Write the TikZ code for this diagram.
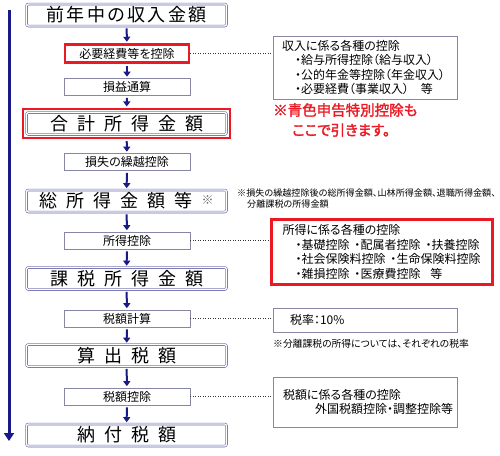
\documentclass[tikz,border=0pt]{standalone}
\usepackage{fontspec}
\setmainfont{Noto Sans CJK JP}[RawFeature=+palt]
\newfontfamily\boldjp{Noto Sans CJK JP}[RawFeature=+palt,FakeBold=2]
\usetikzlibrary{arrows.meta,fit,shadows}

\definecolor{flowblue}{RGB}{25,25,135}
\definecolor{boxblue}{RGB}{105,105,175}
\definecolor{boxgray}{RGB}{135,135,165}
\definecolor{markred}{RGB}{235,25,35}

\newcommand{\wsp}{\hspace{9pt}}
\newcommand{\nsp}{\hspace{2.5pt}}
\newcommand{\isp}{\nobreak\hspace{5pt}}

\tikzset{
	bigbox/.style={draw=boxblue, double=white, double distance=1.3pt, line width=0.6pt,
		rounded corners=2pt, fill=white, minimum width=200pt, minimum height=22pt, inner sep=0pt,
		font=\fontsize{18}{20}\selectfont,
		drop shadow={shadow xshift=1pt, shadow yshift=-1pt, opacity=0.3}},
	smallbox/.style={draw=boxgray, line width=0.6pt, fill=white, minimum width=126pt,
		minimum height=17pt, inner sep=0pt, font=\fontsize{12}{14}\selectfont},
	redframe/.style={draw=markred, line width=2.5pt},
	sidebox/.style={draw=boxgray, line width=0.7pt, fill=white, align=left, inner ysep=0pt,
		font=\fontsize{12}{14.5}\selectfont},
	flow/.style={draw=flowblue, line width=2pt, -{Triangle[width=7pt,length=5pt]},
		shorten <=2pt, shorten >=1.5pt},
	dots/.style={draw=black!80, line width=1.1pt, dash pattern=on 1.1pt off 1.4pt, shorten >=2pt},
	note/.style={anchor=west, align=left, inner sep=0pt, font=\fontsize{9.1}{11.5}\selectfont}
}

\begin{document}
\begin{tikzpicture}[x=1pt, y=-1pt]
		\useasboundingbox (0,0) rectangle (500,455);

		\coordinate (arrtop) at (9,10);
		\coordinate (arrbot) at (9,441);

		% main column
		\node[bigbox] (shunyu) at (126.5,15) {前\nsp 年\nsp 中\nsp の\nsp 収\nsp 入\nsp 金\nsp 額};
		\node[smallbox, redframe, minimum width=124pt, minimum height=18pt] (keihi) at (127,53.5) {必要経費等を控除};
		\node[smallbox] (tsusan) at (127,87) {損益通算};
		\node[bigbox] (gokei) at (126.5,123.5) {合\wsp 計\wsp 所\wsp 得\wsp 金\wsp 額};
		\node[redframe, fit=(gokei), inner sep=3pt] (gokeiframe) {};
		\node[smallbox] (kurikoshi) at (127,162) {損失の繰越控除};
		\node[bigbox] (soshotoku) at (126.5,201) {総\wsp 所\wsp 得\wsp 金\wsp 額\wsp 等\wsp\raisebox{3pt}{\fontsize{12}{12}\selectfont\color{black!60}※}};
		\node[smallbox] (shotokukojo) at (127,240.5) {所得控除};
		\node[bigbox] (kazei) at (126.5,278.5) {課\wsp 税\wsp 所\wsp 得\wsp 金\wsp 額};
		\node[smallbox] (zeigaku) at (127,318.5) {税額計算};
		\node[bigbox] (sanshutsu) at (126.5,355.5) {算\wsp 出\wsp 税\wsp 額};
		\node[smallbox] (zeikojo) at (127,396.5) {税額控除};
		\node[bigbox] (nofu) at (126.5,435) {納\wsp 付\wsp 税\wsp 額};

		% side boxes
		\node[sidebox, minimum width=184pt, minimum height=63pt, inner xsep=9pt, text width=166pt]
			(shunyubox) at (365,67.5)
			{収入に係る各種の控除\\
			\hspace*{13pt}・給与所得控除（給与収入）\\
			\hspace*{13pt}・公的年金等控除（年金収入）\\
			\hspace*{13pt}・必要経費（事業収入）\hspace{12pt}等};
		\node[anchor=west, align=left, inner sep=0pt, text=markred,
			font=\boldjp\fontsize{14.5}{20}\selectfont] (aoiro) at (273,120)
			{※青色申告特別控除も\\ \hspace*{19pt}ここで引きます。};

		\node[note] (soshotokunote) at (237,198.5)
			{※損失の繰越控除後の総所得金額、山林所得金額、退職所得金額、\\
			\hspace*{10pt}分離課税の所得金額};

		\node[sidebox, redframe, minimum width=221pt, minimum height=65pt, inner xsep=11pt, text width=199pt]
			(shotokubox) at (382,252)
			{所得に係る各種の控除\\
			\hspace*{13pt}・基礎控除\isp・配属者控除\isp・扶養控除\\
			\hspace*{13pt}・社会保険料控除\isp・生命保険料控除\\
			\hspace*{13pt}・雑損控除\isp・医療費控除\hspace{10pt}等};

		\node[sidebox, minimum width=184pt, minimum height=24pt, inner xsep=17pt, text width=150pt]
			(zeiritsu) at (365,320) {税率：10\%};
		\node[note, font=\fontsize{9.8}{12}\selectfont] (zeiritsunote) at (273,344)
			{※分離課税の所得については、それぞれの税率};

		\node[sidebox, minimum width=184pt, minimum height=50pt, inner xsep=10pt, text width=164pt]
			(zeikojobox) at (365,402)
			{税額に係る各種の控除\\
			\hspace*{32pt}外国税額控除・調整控除等};

		% flow
		\draw[flow, line width=3pt, -{Triangle[width=10pt,length=8pt]}, shorten <=0pt, shorten >=0pt]
			(arrtop) -- (arrbot);

		\draw[flow] (shunyu) -- (keihi);
		\draw[flow] (keihi) -- (tsusan);
		\draw[flow] (tsusan) -- (gokeiframe);
		\draw[flow] (gokeiframe) -- (kurikoshi);
		\draw[flow] (kurikoshi) -- (soshotoku);
		\draw[flow] (soshotoku) -- (shotokukojo);
		\draw[flow] (shotokukojo) -- (kazei);
		\draw[flow] (kazei) -- (zeigaku);
		\draw[flow] (zeigaku) -- (sanshutsu);
		\draw[flow] (sanshutsu) -- (zeikojo);
		\draw[flow] (zeikojo) -- (nofu);

		\draw[dots] (keihi.east) -- (keihi.east -| shunyubox.west);
		\draw[dots] (shotokukojo.east) -- (shotokukojo.east -| shotokubox.west);
		\draw[dots] (zeigaku.east) -- (zeigaku.east -| zeiritsu.west);
		\draw[dots] (zeikojo.east) -- (zeikojo.east -| zeikojobox.west);
	\end{tikzpicture}
\end{document}
